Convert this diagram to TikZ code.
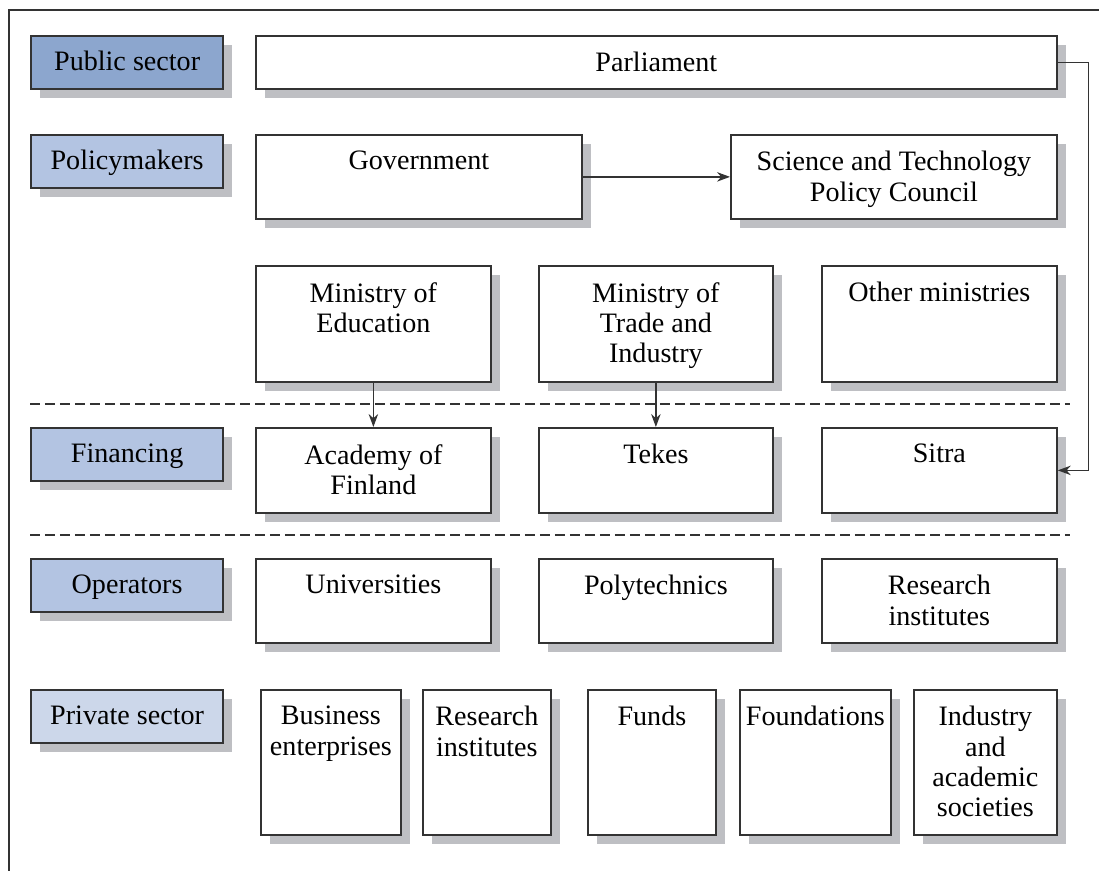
\documentclass[tikz,border=0pt]{standalone}
\usepackage{fontspec}
\setmainfont{Liberation Serif}
\usetikzlibrary{positioning,arrows.meta,shadows}

\definecolor{pubblue}{HTML}{8CA6CE}
\definecolor{midblue}{HTML}{B3C4E2}
\definecolor{paleblue}{HTML}{CCD7EA}
\definecolor{shadowgray}{HTML}{BEBFC3}
\definecolor{edgegray}{HTML}{333333}

\newcommand{\labelfont}{\fontsize{16}{17.2}\selectfont}

\tikzset{
  sideshadow/.style={drop shadow={shadow xshift=0.18cm, shadow yshift=-0.18cm, fill=shadowgray, opacity=1}},
  sector/.style={draw=edgegray, line width=1.3pt, sideshadow, minimum width=3.84cm, minimum height=1.06cm, anchor=north west, font=\labelfont, text height=11pt, text depth=2pt},
  unitbox/.style={draw=edgegray, line width=1pt, fill=white, sideshadow, anchor=north west},
  unittext/.style={anchor=north, align=center, inner sep=0pt, font=\labelfont},
  link/.style={-{Stealth[length=0.26cm,width=0.19cm]}, line width=0.75pt, edgegray},
  divider/.style={dash pattern=on 0.2cm off 0.1cm, line width=1pt, edgegray}
}

\begin{document}
\begin{tikzpicture}[x=0.02cm, y=-0.02cm]
    \useasboundingbox (0,0) rectangle (1099,871);
    % frame (left and top edges only)
    \draw[line width=1.1pt, edgegray] (9,871) -- (9,10) -- (1099,10);
    % sector labels
    \node[sector, fill=pubblue] (pub) at (30,35) {Public sector};
    \node[sector, fill=midblue] (pol) at (30,134) {Policymakers};
    \node[sector, fill=midblue] (fin) at (30,427) {Financing};
    \node[sector, fill=midblue] (ops) at (30,558) {Operators};
    \node[sector, fill=paleblue] (priv) at (30,689) {Private sector};
    % organisations: name/left/top/right/bottom/text (pixels)
    \foreach \nm/\xa/\ya/\xb/\yb/\txt in {
      parl/255/35/1056/88/{Parliament},
      gov/255/134/581/218/{Government},
      stp/730/134/1056/218/{Science and Technology\\Policy Council},
      edu/255/265/490/381/{Ministry of\\Education},
      mti/538/265/772/381/{Ministry of\\Trade and\\Industry},
      oth/821/265/1056/381/{Other ministries},
      aka/255/427/490/512/{Academy of\\Finland},
      tek/538/427/772/512/{Tekes},
      sit/821/427/1056/512/{Sitra},
      uni/255/558/490/642/{Universities},
      poly/538/558/772/642/{Polytechnics},
      resi/821/558/1056/642/{Research\\institutes},
      bus/260/689/400/834/{Business\\enterprises},
      pres/422/689/550/834/{Research\\institutes},
      fund/587/689/715/834/{Funds},
      found/739/689/890/834/{Foundations},
      ind/913/689/1056/834/{Industry\\and\\academic\\societies}} {
      \node[unitbox, minimum width={(\xb-\xa)*0.02cm}, minimum height={(\yb-\ya)*0.02cm}] (\nm) at (\xa,\ya) {};
      \node[unittext] (\nm-txt) at ([yshift=-0.34cm]\nm.north) {\txt};
    }
    % dividers
    \draw[divider] (30,404) -- (1070,404);
    \draw[divider] (30,535) -- (1070,535);
    % links
    \draw[link] (gov.east) -- (stp.west);
    \draw[link] (edu.south) -- (aka.north);
    \draw[link] (mti.south) -- (tek.north);
    \draw[link] (parl.east) -- ++(31,0) |- (sit.east);
\end{tikzpicture}
\end{document}
